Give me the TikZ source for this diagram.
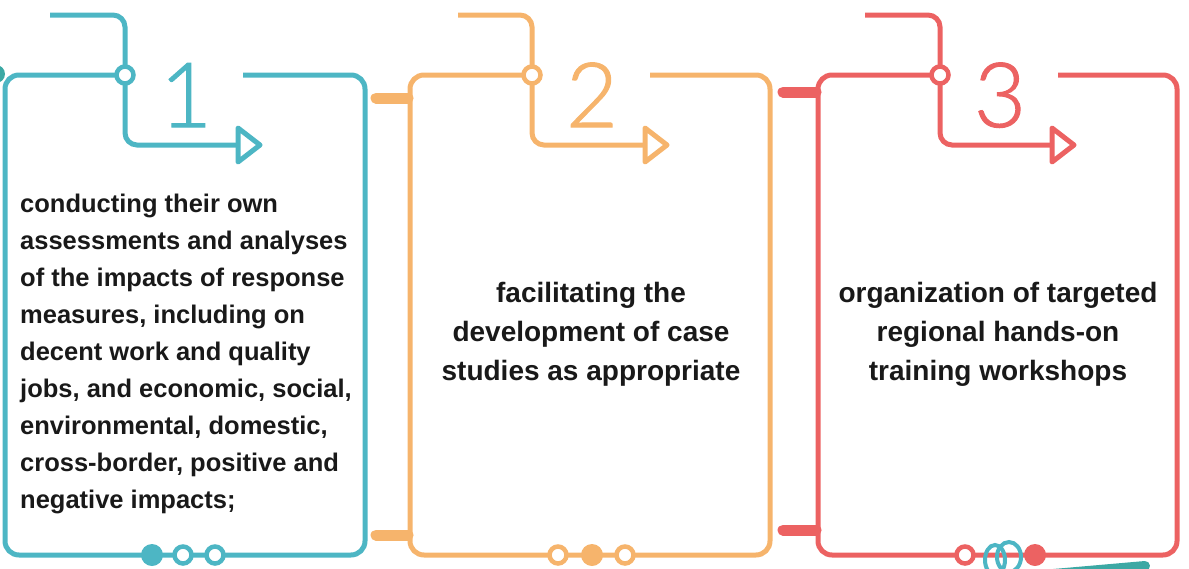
\documentclass[tikz,border=0pt]{standalone}
\usepackage{fontspec}
\setmainfont{Liberation Sans}
\newfontfamily\digitfont{Lato Light}[FakeBold=1.2]
\usepackage{tikz}

\definecolor{tealc}{RGB}{77,182,196}
\definecolor{darkteal}{RGB}{60,168,164}
\definecolor{orangec}{RGB}{246,180,108}
\definecolor{redc}{RGB}{236,98,98}
\definecolor{inkc}{RGB}{25,25,25}

\begin{document}
\begin{tikzpicture}[x=1pt, y=-1pt,
  boxline/.style={line width=5pt, line join=round},
  hookline/.style={line width=5pt, rounded corners=12pt},
  tab/.style={line width=11pt, line cap=round},
  ring/.style={draw=#1, line width=4.5pt, fill=white},
  item/.style={font=\bfseries\fontsize{25.5}{37}\selectfont, text=inkc, inner sep=0pt},
  bigitem/.style={font=\bfseries\fontsize{28}{39}\selectfont, text=inkc, inner sep=0pt},
  numeral/.style={font=\digitfont\fontsize{90}{90}\selectfont, inner sep=0pt}]

\useasboundingbox ( 0, 0 ) rectangle ( 1189, 568 );

% Piece coming in from the left
\fill [darkteal] ( -4, 74 ) circle ( 9 );

% Tabs between the boxes
\draw [tab, orangec] ( 376, 98 ) -- ( 408, 98 );
\draw [tab, orangec] ( 376, 535 ) -- ( 408, 535 );
\draw [tab, redc] ( 783, 92 ) -- ( 816, 92 );
\draw [tab, redc] ( 783, 530 ) -- ( 816, 530 );

% Box 1
\draw [boxline, tealc, rounded corners=14pt] ( 243, 75 ) -| ( 365, 555 ) -| ( 5, 75 ) -- ( 125, 75 );
\draw [hookline, tealc] ( 50, 15 ) -| ( 125, 145 ) -- ( 238, 145 );
\draw [boxline, tealc, fill=white] ( 238, 128 ) -- ++( 22, 17 ) -- ++( -22, 17 ) -- cycle;
\draw [ring=tealc] ( 125, 75 ) circle ( 8.5 );
\fill [tealc] ( 152, 555 ) circle ( 11 );
\draw [ring=tealc] ( 183, 555 ) circle ( 8.5 );
\draw [ring=tealc] ( 215, 555 ) circle ( 8.5 );

% Box 2
\draw [boxline, orangec, rounded corners=14pt] ( 650, 75 ) -| ( 770, 555 ) -| ( 410, 75 ) -- ( 532, 75 );
\draw [hookline, orangec] ( 458, 15 ) -| ( 532, 145 ) -- ( 645, 145 );
\draw [boxline, orangec, fill=white] ( 645, 128 ) -- ++( 22, 17 ) -- ++( -22, 17 ) -- cycle;
\draw [ring=orangec] ( 532, 75 ) circle ( 8.5 );
\draw [ring=orangec] ( 558, 555 ) circle ( 8.5 );
\fill [orangec] ( 592, 555 ) circle ( 11 );
\draw [ring=orangec] ( 625, 555 ) circle ( 8.5 );

% Box 3
\draw [boxline, redc, rounded corners=14pt] ( 1058, 75 ) -| ( 1177, 555 ) -| ( 818, 75 ) -- ( 940, 75 );
\draw [hookline, redc] ( 865, 15 ) -| ( 940, 145 ) -- ( 1052, 145 );
\draw [boxline, redc, fill=white] ( 1052, 128 ) -- ++( 22, 17 ) -- ++( -22, 17 ) -- cycle;
\draw [ring=redc] ( 940, 75 ) circle ( 8.5 );
\draw [ring=redc] ( 965, 555 ) circle ( 8.5 );

% Teal coil at the bottom
\draw [tealc, line width=4pt] ( 995, 560 ) ellipse ( 10 and 15 );
\draw [tealc, line width=4pt] ( 1009, 557 ) ellipse ( 12 and 15 );
\fill [redc] ( 1035, 555 ) circle ( 11 );
\draw [darkteal, line width=10pt, line cap=round] ( 1042, 575 ) -- ( 1145, 566 );

% Numbers
\node [numeral, tealc, anchor=base] (num1) at ( 186, 127 ) {1};
\node [numeral, orangec, anchor=base] (num2) at ( 592, 127 ) {2};
\node [numeral, redc, anchor=base] (num3) at ( 1000, 127 ) {3};

% Texts
\node [item, anchor=north west, align=left] (text1) at ( 20, 194 )
  {conducting their own\\assessments and analyses\\of the impacts of response\\measures, including on\\decent work and quality\\jobs, and economic, social,\\environmental, domestic,\\cross-border, positive and\\negative impacts;};
\node [bigitem, anchor=north, align=center] (text2) at ( 591, 282 )
  {facilitating the\\development of case\\studies as appropriate};
\node [bigitem, anchor=north, align=center] (text3) at ( 998, 282 )
  {organization of targeted\\regional hands-on\\training workshops};

\end{tikzpicture}
\end{document}
